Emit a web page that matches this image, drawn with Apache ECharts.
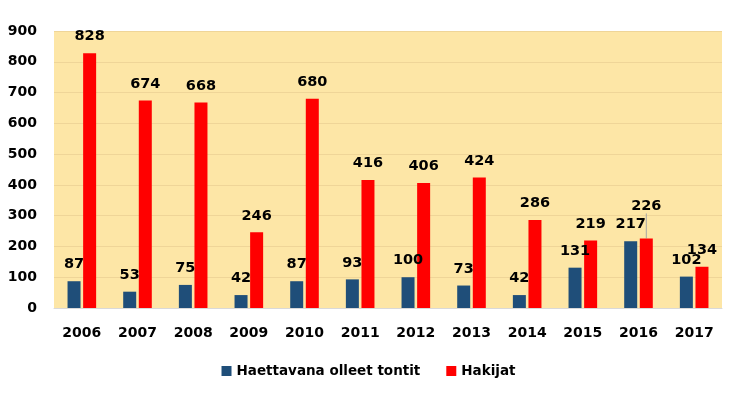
<!DOCTYPE html>
<html>
<head>
<meta charset="utf-8">
<script src="https://cdn.jsdelivr.net/npm/echarts@6/dist/echarts.min.js"></script>
<style>
  html, body { margin: 0; padding: 0; background: #fff; }
  #main { width: 737px; height: 399px; }
</style>
</head>
<body>
<div id="main"></div>
<script>
const years = ['2006', '2007', '2008', '2009', '2010', '2011', '2012', '2013', '2014', '2015', '2016', '2017'];
const tontit = [87, 53, 75, 42, 87, 93, 100, 73, 42, 131, 217, 102];
const hakijat = [828, 674, 668, 246, 680, 416, 406, 424, 286, 219, 226, 134];
const yTicks = [0, 100, 200, 300, 400, 500, 600, 700, 800, 900];

const font = 'DejaVu Sans';
const chart = echarts.init(document.getElementById('main'));

const labelStyle = {
  show: true,
  position: 'top',
  distance: 9,
  fontFamily: font,
  fontWeight: 'bold',
  fontSize: 14.5,
  color: '#000'
};

// 2016 Hakijat label is lifted up with a leader line, like in the original
const hakijatData = hakijat.map(function (v, i) {
  if (years[i] === '2016') {
    return { value: v, labelLine: { show: true, lineStyle: { color: '#A6A6A6', width: 1 } } };
  }
  return v;
});

chart.setOption({
  animation: false,
  textStyle: { fontFamily: font },
  grid: {
    left: 54, right: 15, top: 31, bottom: 91,
    show: true,
    backgroundColor: '#FDE6A6',
    borderWidth: 0
  },
  legend: {
    bottom: 16,
    left: 'center',
    itemWidth: 10,
    itemHeight: 10,
    itemGap: 26,
    icon: 'rect',
    textStyle: { fontFamily: font, fontWeight: 'bold', fontSize: 13.5, color: '#000' },
    data: ['Haettavana olleet tontit', 'Hakijat']
  },
  xAxis: {
    type: 'category',
    data: years,
    axisLine: { show: true, lineStyle: { color: '#D9D9D9' } },
    axisTick: { show: false },
    axisLabel: {
      margin: 18,
      fontFamily: font,
      fontWeight: 'bold',
      fontSize: 14,
      color: '#000'
    }
  },
  yAxis: {
    type: 'value',
    min: yTicks[0],
    max: yTicks[yTicks.length - 1],
    interval: 100,
    axisLine: { show: false },
    axisTick: { show: false },
    splitLine: { lineStyle: { color: '#EFD598', width: 1 } },
    axisLabel: {
      margin: 17,
      fontFamily: font,
      fontWeight: 'bold',
      fontSize: 14,
      color: '#000'
    }
  },
  series: [
    {
      name: 'Haettavana olleet tontit',
      type: 'bar',
      data: tontit,
      barWidth: 13,
      barGap: '20%',
      itemStyle: { color: '#1F4E79', borderWidth: 0 },
      label: labelStyle
    },
    {
      name: 'Hakijat',
      type: 'bar',
      data: hakijatData,
      barWidth: 13,
      itemStyle: { color: '#FF0000', borderWidth: 0 },
      label: labelStyle,
      labelLayout: function (params) {
        if (params.dataIndex === 10) {
          return { dy: -16 };
        }
        return {};
      }
    }
  ]
});
</script>
</body>
</html>
